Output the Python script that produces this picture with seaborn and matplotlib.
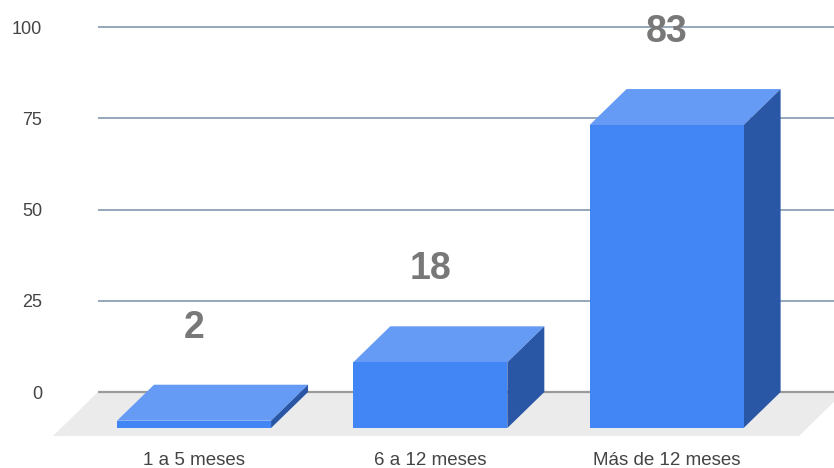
import matplotlib
matplotlib.use("Agg")
import matplotlib.pyplot as plt
import pandas as pd
import seaborn as sns
from matplotlib.patches import Polygon
from matplotlib.transforms import ScaledTranslation, IdentityTransform

# ---- data ----
categories = ["1 a 5 meses", "6 a 12 meses", "Más de 12 meses"]
values = [2, 18, 83]
y_ticks = [0, 25, 50, 75, 100]
y_tick_labels = ["0", "25", "50", "75", "100"]

# ---- colours ----
FRONT = "#4285F4"
TOP = "#669BF5"
SIDE = "#2A56A6"
FLOOR = "#EBEBEB"
GRID = "#8497B0"
ZERO = "#9A9A9A"
VALUE = "#787878"
TICK = "#444444"

sns.set_theme(style="white")
plt.rcParams["font.family"] = ["Liberation Sans", "DejaVu Sans"]

DPI = 100
W, H = 834, 468
fig = plt.figure(figsize=(W / DPI, H / DPI), dpi=DPI)
fig.patch.set_facecolor("white")

# back plane of the 3D box (where the gridlines live)
ax = fig.add_axes([98 / W, (H - 400) / H, (W - 98) / W, (400 - 15) / H])
ax.set_facecolor("none")

# pseudo-3D depth offsets in pixels (x, y in display direction)
BAR_DX, BAR_DY = -37, -36
FLOOR_DX, FLOOR_DY = -45, -44

df = pd.DataFrame({"periodo": categories, "valor": values})
sns.barplot(data=df, x="periodo", y="valor", color=FRONT, saturation=1,
            width=0.652, ax=ax, zorder=3, linewidth=0)

ax.set_xlim(-0.563, 2.552)
ax.set_ylim(-2.19, 103.29)

# grid on the back plane
ax.set_yticks(y_ticks)
ax.set_yticklabels(y_tick_labels)
ax.set_axisbelow(True)
ax.yaxis.grid(True, color=GRID, linewidth=1.2)
ax.xaxis.grid(False)
ax.get_ygridlines()[0].set_color(ZERO)
ax.get_ygridlines()[0].set_linewidth(1.6)
for s in ax.spines.values():
    s.set_visible(False)
ax.set_xlabel("")
ax.set_ylabel("")

# floor of the box
bl = ax.transData.transform((ax.get_xlim()[0], 0))
br = ax.transAxes.transform((1, 0))
br = (br[0] + 10, bl[1])
floor = Polygon([(bl[0], bl[1]), (br[0], br[1]),
                 (br[0] + FLOOR_DX, br[1] + FLOOR_DY),
                 (bl[0] + FLOOR_DX, bl[1] + FLOOR_DY)],
                closed=True, transform=IdentityTransform(),
                facecolor=FLOOR, edgecolor="none", zorder=0.3)
ax.add_patch(floor)
floor.set_clip_on(False)

# extrude each bar: front face shifted forward, plus top and right faces
depth = ScaledTranslation(BAR_DX / DPI, BAR_DY / DPI, fig.dpi_scale_trans)
bars = list(ax.patches)[:len(values)]
for bar in bars:
    x0 = bar.get_x()
    x1 = x0 + bar.get_width()
    h = bar.get_height()
    bx0, btop = ax.transData.transform((x0, h))
    bx1, _ = ax.transData.transform((x1, h))
    _, bbot = ax.transData.transform((x1, 0))

    top = Polygon([(bx0 + BAR_DX, btop + BAR_DY), (bx1 + BAR_DX, btop + BAR_DY),
                   (bx1, btop), (bx0, btop)],
                  closed=True, transform=IdentityTransform(),
                  facecolor=TOP, edgecolor="none", zorder=2.5)
    side = Polygon([(bx1 + BAR_DX, btop + BAR_DY), (bx1, btop),
                    (bx1, bbot), (bx1 + BAR_DX, bbot + BAR_DY)],
                   closed=True, transform=IdentityTransform(),
                   facecolor=SIDE, edgecolor="none", zorder=2.5)
    for p in (top, side):
        ax.add_patch(p)
        p.set_clip_on(False)

    bar.set_transform(ax.transData + depth)
    bar.set_clip_on(False)

# value labels
for bar, v in zip(bars, values):
    ax.annotate(f"{v}", xy=(bar.get_x() + bar.get_width() / 2, v),
                xytext=(BAR_DX, 57), textcoords="offset pixels",
                ha="center", va="center", fontsize=27, fontweight="bold",
                color=VALUE, annotation_clip=False, zorder=5)

# tick labels
ax.tick_params(axis="y", length=0, pad=40.3, labelsize=13, labelcolor=TICK)
ax.tick_params(axis="x", length=0, pad=37.5, labelsize=13.5, labelcolor=TICK)
shift = ScaledTranslation(BAR_DX / DPI, 0, fig.dpi_scale_trans)
for lbl in ax.get_xticklabels():
    lbl.set_transform(lbl.get_transform() + shift)

fig.savefig("out.png", dpi=DPI, facecolor="white")
